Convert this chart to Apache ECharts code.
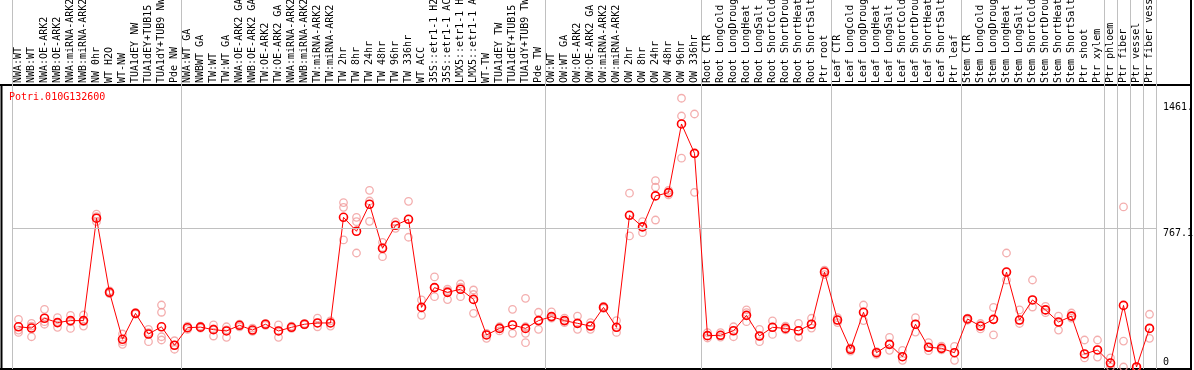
<!DOCTYPE html>
<html><head><meta charset="utf-8">
<script src="https://cdn.jsdelivr.net/npm/echarts@6/dist/echarts.min.js"></script>
<style>html,body{margin:0;padding:0;background:#fff}#c{width:1194px;height:370px}</style>
</head><body><div id="c"></div>
<script>
const geneId = 'Potri.010G132600';
const categories = [
 'NWA:WT','NWB:WT','NWA:OE-ARK2','NWB:OE-ARK2','NWA:miRNA-ARK2','NWB:miRNA-ARK2','NW 0hr','WT H2O','WT-NW','TUA1dEY NW','TUA1dEY+TUB15 NW','TUA1dY+TUB9 NW','Pde NW',
 'NWA:WT GA','NWBWT GA','TW:WT','TW:WT GA','NWA:OE-ARK2 GA','NWB:OE-ARK2 GA','TW:OE-ARK2','TW:OE-ARK2 GA','NWA:miRNA-ARK2 GA','NWB:miRNA-ARK2 GA','TW:miRNA-ARK2','TW:miRNA-ARK2 GA',
 'TW 2hr','TW 8hr','TW 24hr','TW 48hr','TW 96hr','TW 336hr','WT ACC','35S::etr1-1 H2O','35S::etr1-1 ACC','LMX5::etr1-1 H2O','LMX5::etr1-1 ACC','WT-TW','TUA1dEY TW','TUA1dEY+TUB15 TW','TUA1dY+TUB9 TW','Pde TW',
 'OW:WT','OW:WT GA','OW:OE-ARK2','OW:OE-ARK2 GA','OW:miRNA-ARK2','OW:miRNA-ARK2 GA','OW 2hr','OW 8hr','OW 24hr','OW 48hr','OW 96hr','OW 336hr',
 'Root CTR','Root LongCold','Root LongDrought','Root LongHeat','Root LongSalt','Root ShortCold','Root ShortDrought','Root ShortHeat','Root ShortSalt','Ptr root',
 'Leaf CTR','Leaf LongCold','Leaf LongDrought','Leaf LongHeat','Leaf LongSalt','Leaf ShortCold','Leaf ShortDrought','Leaf ShortHeat','Leaf ShortSalt','Ptr leaf',
 'Stem CTR','Stem LongCold','Stem LongDrought','Stem LongHeat','Stem LongSalt','Stem ShortCold','Stem ShortDrought','Stem ShortHeat','Stem ShortSalt','Ptr shoot','Ptr xylem',
 'Ptr phloem','Ptr fiber','Ptr vessel','Ptr fiber vessel'
];
const groupStarts = [0,13,41,53,63,73,84,85,86,87];
const meanValues = [
 222,215,269,245,256,256,821,412,153,296,182,222,120,
 217,220,206,199,230,204,236,199,219,236,243,243,
 826,749,898,655,782,815,329,438,412,429,373,177,213,232,213,256,
 278,256,241,226,329,219,837,773,944,962,1341,1179,
 173,175,200,285,171,219,213,200,236,524,
 259,98,302,79,125,57,236,109,103,79,
 265,226,263,524,259,370,315,248,281,72,94,
 22,340,0,213
];
const rep1 = [
 263,241,318,272,285,287,843,420,182,300,208,342,145,
 226,226,232,222,236,215,240,232,226,240,270,254,
 907,826,975,688,800,914,370,497,430,458,425,186,222,318,379,302,
 304,270,281,245,335,256,959,802,1028,975,1483,1396,
 190,190,222,315,208,254,225,241,269,535,
 272,105,342,85,164,92,272,135,115,114,
 270,240,329,629,315,480,335,281,298,149,149,
 50,883,0,291
];
const rep2 = [
 204,167,236,219,213,226,830,405,140,292,140,302,98,
 208,215,171,164,222,197,230,164,213,232,222,226,
 881,802,916,609,765,716,285,388,372,388,296,158,199,186,186,208,
 270,245,208,208,323,191,723,741,992,950,1385,964,
 160,165,167,250,140,180,205,164,215,510,
 245,88,256,70,92,37,193,90,95,37,
 258,210,177,480,240,331,300,204,270,50,55,
 0,143,0,158
];
const rep3 = [
 191,226,250,245,250,250,802,412,125,296,190,167,120,
 217,220,210,205,230,204,236,199,219,236,243,243,
 701,629,804,660,782,815,329,438,420,440,400,177,213,232,134,256,
 278,256,241,226,329,219,837,773,811,962,1152,1179,
 173,175,200,300,171,219,213,200,236,524,
 259,98,302,79,125,57,236,109,103,79,
 265,226,263,524,259,370,315,248,281,72,94,
 22,0,0,213
];
const extraReps = [[11,149],[39,222]];
const yTickValues = [0, 767.1, 1461];
const yTickLabels = ['0', '767.1', '1461.'];
const yGridValue = 767.1;

const FONT = 'DejaVu Sans Mono';
const repPoints = [];
[rep1, rep2, rep3].forEach(arr => arr.forEach((v, i) => { if (v !== null) repPoints.push([i, v]); }));
extraReps.forEach(p => repPoints.push(p));

const chart = echarts.init(document.getElementById('c'), null, {renderer: 'canvas'});
const isGroupStart = (idx) => groupStarts.indexOf(idx) >= 0;
chart.setOption({
  animation: false,
  backgroundColor: '#fff',
  title: {
    text: geneId, left: 9, top: 92, padding: 0,
    textStyle: {color: '#ff0000', fontFamily: FONT, fontSize: 10, fontWeight: 'normal'}
  },
  grid: [
    {left: 12, width: 1144, top: 85, bottom: 1, containLabel: false, outerBoundsMode: 'none'},
    {left: 12, width: 1144, top: 0, height: 85, containLabel: false, outerBoundsMode: 'none'}
  ],
  xAxis: [
    {
      type: 'category', gridIndex: 0, position: 'top', data: categories, boundaryGap: true,
      axisLine: {show: false}, axisTick: {show: false},
      axisLabel: {interval: 0, rotate: 90, margin: 2, color: '#000', fontFamily: FONT, fontSize: 10},
      splitLine: {show: true, interval: (i) => isGroupStart(i), lineStyle: {color: '#c0c0c0', width: 1}}
    },
    {
      type: 'category', gridIndex: 1, data: categories, boundaryGap: true,
      axisLine: {show: false}, axisTick: {show: false}, axisLabel: {show: false},
      splitLine: {show: true, interval: (i) => isGroupStart(i), lineStyle: {color: '#c0c0c0', width: 1}}
    }
  ],
  yAxis: [
    {
      type: 'value', gridIndex: 0, position: 'right', min: -11, max: 1556,
      axisLine: {show: false}, axisTick: {show: false}, splitLine: {show: false},
      axisLabel: {
        customValues: yTickValues, margin: 7, align: 'left', color: '#000', fontFamily: FONT, fontSize: 10,
        formatter: function (v) {
          let best = 0;
          yTickValues.forEach((t, i) => { if (Math.abs(t - v) < Math.abs(yTickValues[best] - v)) best = i; });
          return (best === 0 ? '{b|' : '{t|') + yTickLabels[best] + '}';
        },
        rich: {
          t: {padding: [10, 0, 0, 0], color: '#000', fontFamily: FONT, fontSize: 10},
          b: {padding: [0, 0, 10, 0], color: '#000', fontFamily: FONT, fontSize: 10}
        }
      }
    },
    {type: 'value', gridIndex: 1, show: false, splitLine: {show: false}}
  ],
  series: [
    {
      type: 'scatter', xAxisIndex: 0, yAxisIndex: 0, data: repPoints, z: 2,
      symbol: 'circle', symbolSize: 7.5,
      itemStyle: {color: 'rgba(0,0,0,0)', borderColor: '#f09a9a', borderWidth: 1.3},
      markLine: {
        silent: true, symbol: 'none', label: {show: false},
        lineStyle: {color: '#c0c0c0', width: 1, type: 'solid'},
        data: [{yAxis: yGridValue}]
      }
    },
    {
      type: 'line', xAxisIndex: 0, yAxisIndex: 0, data: meanValues, z: 3,
      symbol: 'circle', symbolSize: 8, showAllSymbol: true,
      lineStyle: {color: '#ff0000', width: 1},
      itemStyle: {color: 'rgba(0,0,0,0)', borderColor: '#ff0000', borderWidth: 1.6}
    }
  ],
  graphic: [
    {type: 'line', silent: true, shape: {x1: 0, y1: 85, x2: 1191, y2: 85}, style: {stroke: '#000', lineWidth: 2}},
    {type: 'line', silent: true, shape: {x1: 1.5, y1: 85, x2: 1.5, y2: 370}, style: {stroke: '#000', lineWidth: 2}},
    {type: 'line', silent: true, shape: {x1: 0, y1: 369, x2: 1191, y2: 369}, style: {stroke: '#000', lineWidth: 2}},
    {type: 'line', silent: true, shape: {x1: 1191, y1: 0, x2: 1191, y2: 370}, style: {stroke: '#000', lineWidth: 2}}
  ]
});
</script>
</body></html>
